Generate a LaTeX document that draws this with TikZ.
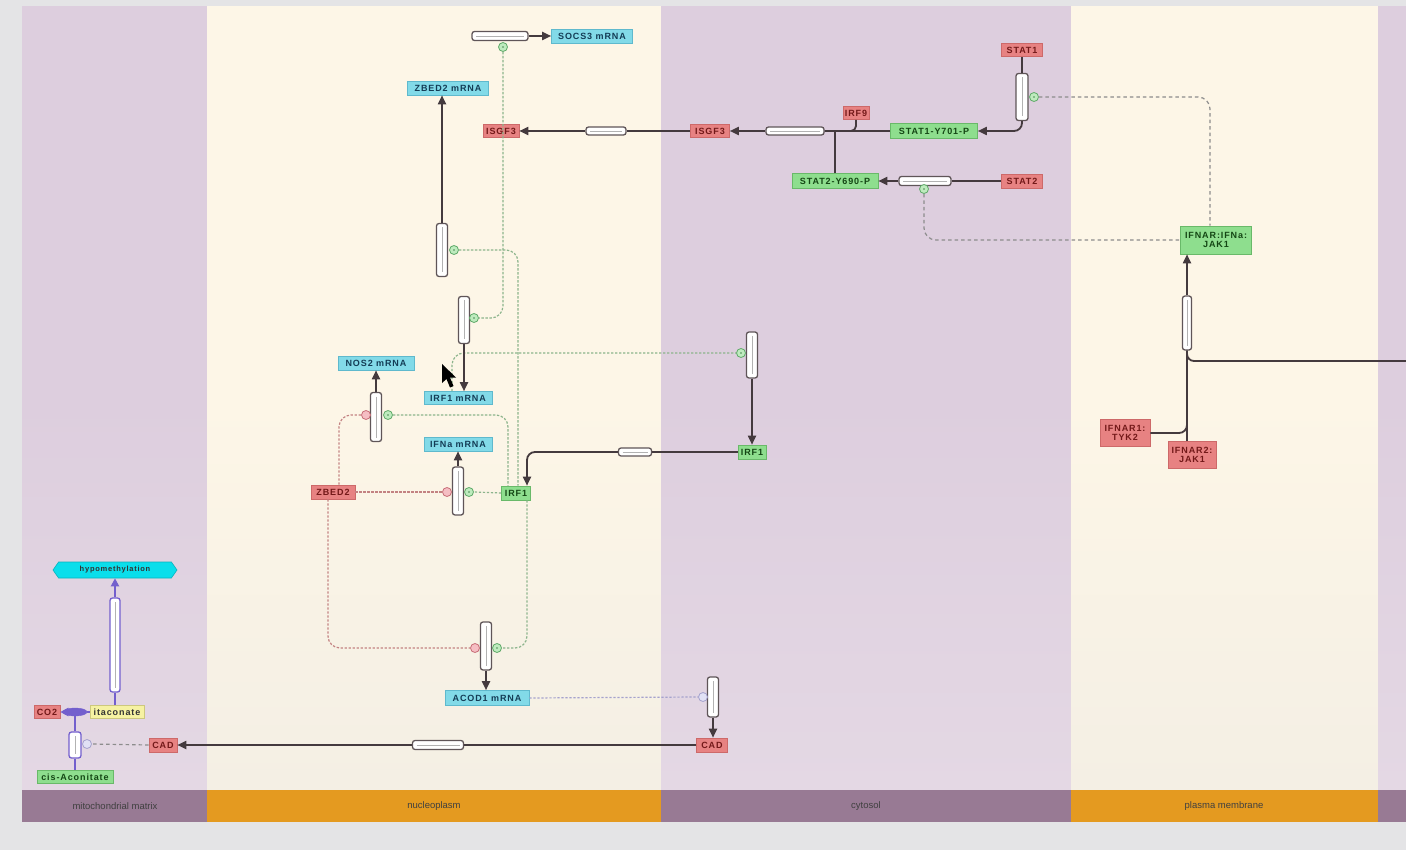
\documentclass[tikz,border=0pt]{standalone}
\usepackage{fontspec}
\setmainfont{Liberation Sans}
\newfontfamily\nodefont[LetterSpace=10]{Liberation Sans}
\usetikzlibrary{shapes.geometric,shapes.symbols,arrows.meta,calc}
\definecolor{bggrey}{RGB}{228,228,230}
\definecolor{lanepurp}{RGB}{221,206,222}
\definecolor{lanepurpb}{RGB}{228,216,228}
\definecolor{lanecream}{RGB}{253,246,231}
\definecolor{lanecreamb}{RGB}{244,239,228}
\definecolor{bandpurp}{RGB}{152,122,148}
\definecolor{bandorange}{RGB}{228,154,32}
\definecolor{rfill}{RGB}{231,130,130}
\definecolor{rdraw}{RGB}{205,105,105}
\definecolor{rtext}{RGB}{115,25,25}
\definecolor{gfill}{RGB}{142,222,142}
\definecolor{gdraw}{RGB}{105,185,105}
\definecolor{gtext}{RGB}{20,70,20}
\definecolor{cfill}{RGB}{130,218,232}
\definecolor{cdraw}{RGB}{95,185,205}
\definecolor{ctext}{RGB}{20,60,85}
\definecolor{yfill}{RGB}{246,242,162}
\definecolor{ydraw}{RGB}{205,200,125}
\definecolor{hfill}{RGB}{10,222,235}
\definecolor{conncol}{RGB}{68,58,62}
\definecolor{pdraw}{RGB}{95,85,88}
\definecolor{purp}{RGB}{115,95,205}
\definecolor{sfill}{RGB}{190,235,190}
\definecolor{sdraw}{RGB}{95,170,105}
\definecolor{ifill}{RGB}{245,190,195}
\definecolor{idraw}{RGB}{200,110,120}
\definecolor{modg}{RGB}{140,180,140}
\definecolor{modr}{RGB}{195,130,130}
\definecolor{modgrey}{RGB}{140,140,140}
\definecolor{modlav}{RGB}{165,162,205}
\definecolor{lavfill}{RGB}{225,225,245}
\begin{document}
\begin{tikzpicture}[x=1pt,y=-1pt,
  lbl/.style={draw, inner sep=0pt, line width=0.6, align=center,
    font=\nodefont\fontsize{9}{9.8}\selectfont\bfseries},
  rn/.style={lbl, fill=rfill, draw=rdraw, text=rtext},
  gn/.style={lbl, fill=gfill, draw=gdraw, text=gtext},
  cn/.style={lbl, fill=cfill, draw=cdraw, text=ctext},
  yn/.style={lbl, fill=yfill, draw=ydraw, text=black!80},
  procbase/.style={draw=pdraw, fill=white, rounded corners=2.5pt, line width=1.3, inner sep=0pt},
  hproc/.style={procbase, path picture={\draw[black!30,line width=0.6]
      ([xshift=4pt]path picture bounding box.west) -- ([xshift=-4pt]path picture bounding box.east);}},
  vproc/.style={procbase, path picture={\draw[black!30,line width=0.6]
      ([yshift=-4pt]path picture bounding box.north) -- ([yshift=4pt]path picture bounding box.south);}},
  pvproc/.style={vproc, draw=purp},
  stim/.style={circle, draw=sdraw, fill=sfill, minimum size=9, inner sep=0pt, line width=0.8},
  inh/.style={circle, draw=idraw, fill=ifill, minimum size=9, inner sep=0pt, line width=0.8},
  lavc/.style={circle, draw=modlav, fill=lavfill, minimum size=9, inner sep=0pt, line width=0.8},
  conn/.style={draw=conncol, line width=1.8, rounded corners=8},
  pconn/.style={draw=purp, line width=2},
  arr/.style={-{Triangle[length=9,width=8]}},
  modline/.style={line width=1.2, dash pattern=on 2.4pt off 1.6pt, rounded corners=12},
  mg/.style={modline, draw=modg},
  mr/.style={modline, draw=modr},
  mgrey/.style={modline, draw=modgrey, dash pattern=on 3.5pt off 3pt},
  mlav/.style={modline, draw=modlav},
  bandtxt/.style={font=\fontsize{9.5}{10}\selectfont, text=black!75}
]
\useasboundingbox (0,0) rectangle (1406,850);
% background and lanes
\fill[bggrey] (0,0) rectangle (1406,850);
\shade[top color=lanepurp, bottom color=lanepurpb, middle color=lanepurp] (22,7) rectangle (207,790);
\shade[top color=lanecream, bottom color=lanecreamb, middle color=lanecream] (207,7) rectangle (661,790);
\shade[top color=lanepurp, bottom color=lanepurpb, middle color=lanepurp] (661,7) rectangle (1071,790);
\shade[top color=lanecream, bottom color=lanecreamb, middle color=lanecream] (1071,7) rectangle (1378,790);
\shade[top color=lanepurp, bottom color=lanepurpb, middle color=lanepurp] (1378,7) rectangle (1406,790);
\fill[bandpurp] (22,790) rectangle (207,822);
\fill[bandorange] (207,790) rectangle (661,822);
\fill[bandpurp] (661,790) rectangle (1071,822);
\fill[bandorange] (1071,790) rectangle (1378,822);
\fill[bandpurp] (1378,790) rectangle (1406,822);
\node[bandtxt] (bmito) at (115,806) {mitochondrial matrix};
\node[bandtxt] (bnuc) at (434,806) {nucleoplasm};
\node[bandtxt] (bcyt) at (866,806) {cytosol};
\node[bandtxt] (bpm) at (1224,806) {plasma membrane};

% ---------- species ----------
\node[cn, minimum width=81, minimum height=14] (SOCSm) at (592,36) {SOCS3 mRNA};
\node[cn, minimum width=81, minimum height=14] (ZBm) at (448,88) {ZBED2 mRNA};
\node[rn, minimum width=36, minimum height=13] (ISGn) at (501,131) {ISGF3};
\node[rn, minimum width=39, minimum height=13] (ISGc) at (710,131) {ISGF3};
\node[rn, minimum width=26, minimum height=13] (IRF9) at (856,113) {IRF9};
\node[gn, minimum width=87, minimum height=15] (S1P) at (934,131) {STAT1-Y701-P};
\node[rn, minimum width=41, minimum height=13] (STAT1) at (1022,50) {STAT1};
\node[gn, minimum width=86, minimum height=15] (S2P) at (835,181) {STAT2-Y690-P};
\node[rn, minimum width=41, minimum height=14] (STAT2) at (1022,181) {STAT2};
\node[gn, minimum width=71, minimum height=28] (IFNAR) at (1216,240) {IFNAR:IFNa:\\JAK1};
\node[rn, minimum width=50, minimum height=27] (IFNAR1) at (1125,433) {IFNAR1:\\TYK2};
\node[rn, minimum width=48, minimum height=27] (IFNAR2) at (1192,455) {IFNAR2:\\JAK1};
\node[cn, minimum width=76, minimum height=14] (NOSm) at (376,363) {NOS2 mRNA};
\node[cn, minimum width=68, minimum height=13] (IRF1m) at (458,398) {IRF1 mRNA};
\node[cn, minimum width=68, minimum height=14] (IFNam) at (458,444) {IFNa mRNA};
\node[gn, minimum width=29, minimum height=14] (IRF1n) at (516,493) {IRF1};
\node[rn, minimum width=44, minimum height=14] (ZB) at (333,492) {ZBED2};
\node[gn, minimum width=28, minimum height=14] (IRF1c) at (752,452) {IRF1};
\node[cn, minimum width=84, minimum height=15] (ACm) at (487,698) {ACOD1 mRNA};
\node[rn, minimum width=31, minimum height=14] (CADc) at (712,745) {CAD};
\node[rn, minimum width=28, minimum height=14] (CADm) at (163,745) {CAD};
\node[yn, minimum width=54, minimum height=13] (ita) at (117,712) {itaconate};
\node[rn, minimum width=26, minimum height=13] (CO2) at (47,712) {CO2};
\node[gn, minimum width=76, minimum height=13] (cis) at (75,777) {cis-Aconitate};
\node[lbl, shape=signal, signal to=west and east, signal pointer angle=110, fill=hfill, draw=hfill!80!black,
      text=black!80, minimum width=124, minimum height=16,
      font=\nodefont\fontsize{7.5}{8}\selectfont\bfseries] (hyp) at (115,570) {hypomethylation};

% ---------- processes ----------
\node[hproc, minimum width=56, minimum height=9] (pSOCS) at (500,36) {};
\node[hproc, minimum width=40, minimum height=8] (pISGtr) at (606,131) {};
\node[hproc, minimum width=58, minimum height=8] (pISGf) at (795,131) {};
\node[vproc, minimum width=12, minimum height=47] (pS1) at (1022,97) {};
\node[hproc, minimum width=52, minimum height=9] (pS2) at (925,181) {};
\node[vproc, minimum width=9, minimum height=54] (pIF) at (1187,323) {};
\node[vproc, minimum width=11, minimum height=53] (pZB) at (442,250) {};
\node[vproc, minimum width=11, minimum height=47] (pIRFm) at (464,320) {};
\node[vproc, minimum width=11, minimum height=49] (pNOS) at (376,417) {};
\node[vproc, minimum width=11, minimum height=48] (pIFNa) at (458,491) {};
\node[vproc, minimum width=11, minimum height=48] (pAC) at (486,646) {};
\node[vproc, minimum width=11, minimum height=46] (pTr) at (752,355) {};
\node[hproc, minimum width=33, minimum height=8] (pIRFtr) at (635,452) {};
\node[vproc, minimum width=11, minimum height=40] (pCAD) at (713,697) {};
\node[hproc, minimum width=51, minimum height=9] (pCADtr) at (438,745) {};
\node[pvproc, minimum width=12, minimum height=26] (pMito) at (75,745) {};
\node[pvproc, minimum width=10, minimum height=94] (pHyp) at (115,645) {};
\node[ellipse, fill=purp, draw=purp, minimum width=24, minimum height=8, inner sep=0pt] (lens) at (75,712) {};

% ---------- modifier circles ----------
\node[stim] (cSOCS) at (503,47) {};
\node[stim] (cS1) at (1034,97) {};
\node[stim] (cS2) at (924,189) {};
\node[stim] (cZB) at (454,250) {};
\node[stim] (cIRFm) at (474,318) {};
\node[inh] (cNOSr) at (366,415) {};
\node[stim] (cNOSg) at (388,415) {};
\node[inh] (cIFNr) at (447,492) {};
\node[stim] (cIFNg) at (469,492) {};
\node[inh] (cACr) at (475,648) {};
\node[stim] (cACg) at (497,648) {};
\node[stim] (cTr) at (741,353) {};
\node[lavc] (cCAD) at (703,697) {};
\node[lavc] (cMito) at (87,744) {};
\foreach \c in {cSOCS,cS1,cS2,cZB,cIRFm,cNOSg,cIFNg,cACg,cTr}{\fill[sdraw!80!black] (\c) circle (0.9);}

% ---------- connectors ----------
\draw[conn,arr] (pSOCS.east) -- (SOCSm.west);
\draw[conn,arr] (pZB.north) -- (pZB.north |- ZBm.south);
\draw[conn,arr] (pISGf.west) -- (ISGc.east);
\draw[conn] (ISGc.west) -- (pISGtr.east);
\draw[conn,arr] (pISGtr.west) -- (ISGn.east);
\draw[conn] (S1P.west) -- (pISGf.east);
\draw[conn, rounded corners=5] (IRF9.south) |- (pISGf.east);
\draw[conn] (S2P.north) -- (S2P.north |- pISGf.east);
\draw[conn] (STAT1.south) -- (pS1.north);
\draw[conn,arr] (pS1.south) |- (S1P.east);
\draw[conn] (STAT2.west) -- (pS2.east);
\draw[conn,arr] (pS2.west) -- (S2P.east);
\draw[mgrey] (cS1.east) -| ($(IFNAR.north)+(-6,0)$);
\draw[mgrey] (cS2.south) |- (IFNAR.west);
\draw[conn,arr] (pIF.north) -- (pIF.north |- IFNAR.south);
\draw[conn] (pIF.south) -- (pIF.south |- IFNAR2.north);
\draw[conn] (IFNAR1.east) -| (pIF.south);
\coordinate (offR) at (1406,361);
\draw[conn, rounded corners=7] (pIF.south) |- (offR);

% nucleoplasm modifiers
\draw[mg] (cSOCS.south) |- (cIRFm.east);
\draw[mg] (cZB.east) -| ($(IRF1n.north)+(2,0)$);
\draw[mg] (cNOSg.east) -| ($(IRF1n.north)+(-8,0)$);
\draw[mr] ($(ZB.north)+(6,0)$) |- (cNOSr.west);
\draw[mr] (ZB.east) -- (cIFNr.west);
\draw[mg] (IRF1n.west) -- (cIFNg.east);
\draw[mr] ($(ZB.south)+(-5,0)$) |- (cACr.west);
\draw[mg] ($(IRF1n.south)+(11,0)$) |- (cACg.east);
\draw[mg] ($(IRF1m.north)+(-6,0)$) |- (cTr.west);

\draw[conn,arr] (pIRFm.south) -- (pIRFm.south |- IRF1m.north);
\draw[conn,arr] (pNOS.north) -- (NOSm.south);
\draw[conn,arr] (pIFNa.north) -- (IFNam.south);
\draw[conn,arr] (pAC.south) -- (pAC.south |- ACm.north);
\draw[conn,arr] (pTr.south) -- (IRF1c.north);
\draw[conn] (IRF1c.west) -- (pIRFtr.east);
\draw[conn,arr] (pIRFtr.west) -| ($(IRF1n.north)+(11,0)$);

% CAD
\draw[mlav] (ACm.east) -- (cCAD.west);
\draw[conn,arr] (pCAD.south) -- (pCAD.south |- CADc.north);
\draw[conn] (CADc.west) -- (pCADtr.east);
\draw[conn,arr] (pCADtr.west) -- (CADm.east);
\draw[mgrey] (CADm.west) -- (cMito.east);

% mitochondrion
\draw[pconn] (pMito.north) -- (lens.south);
\draw[pconn] (pMito.south) -- (pMito.south |- cis.north);
\draw[pconn,-{Triangle[length=8,width=8]}] (lens.west) -- (CO2.east);
\draw[pconn] (lens.east) -- (ita.west);
\draw[pconn] (pHyp.south |- ita.north) -- (pHyp.south);
\draw[pconn,-{Triangle[length=8,width=8]}] (pHyp.north) -- (pHyp.north |- hyp.south);

% mouse pointer
\fill[black] (442,364) -- (442,383) -- (446.5,379) -- (450,387.5) -- (453.5,386) -- (450,377.5) -- (456,377.5) -- cycle;
\end{tikzpicture}
\end{document}
